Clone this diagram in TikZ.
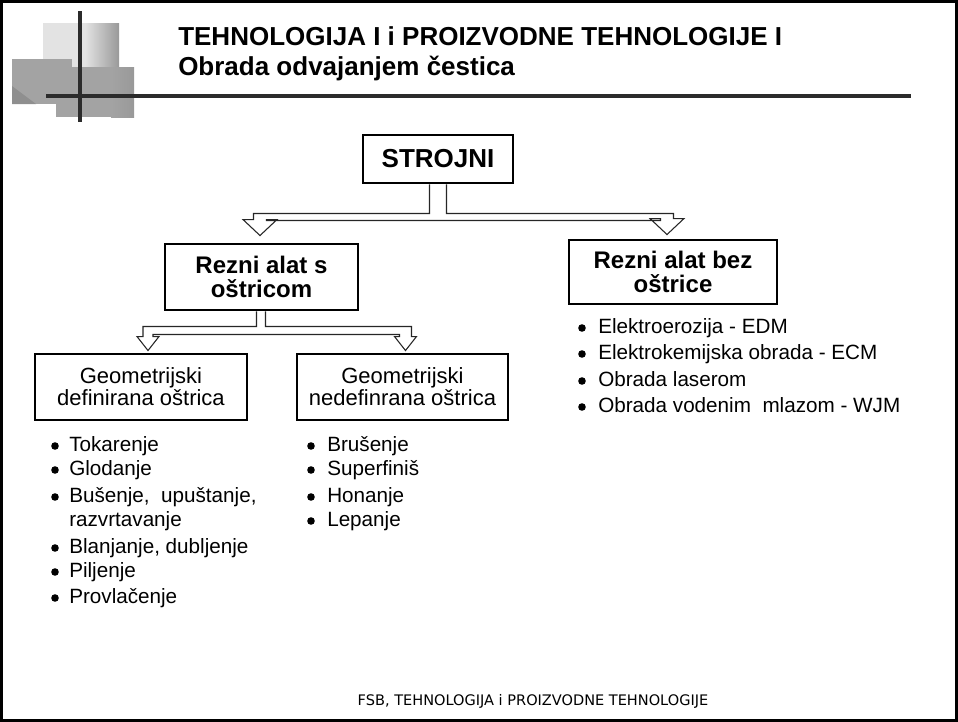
\documentclass[tikz,border=0pt]{standalone}
\usepackage{fontspec}
\setmainfont{Liberation Sans}
\newfontfamily\fsbfont{DejaVu Sans}
\usetikzlibrary{calc}

\definecolor{logolight}{gray}{0.89}
\definecolor{logodark}{gray}{0.60}
\definecolor{logomid}{gray}{0.64}
\definecolor{logoshade}{gray}{0.56}
\definecolor{logoline}{gray}{0.17}

\tikzset{
  box/.style={draw, line width=2.2pt, align=center, inner sep=0pt},
  boldbox/.style={box, font=\bfseries\fontsize{18}{18.5}\selectfont},
  thinbox/.style={box, font=\fontsize{16.5}{16.5}\selectfont, minimum height=49.5pt},
  fork/.style={draw=black!85, fill=white, line width=0.8pt, line join=miter},
  item/.style={anchor=base west, inner sep=0pt, font=\fontsize{15.5}{18}\selectfont},
}

\begin{document}
\begin{tikzpicture}[x=0.75pt,y=-0.75pt]
	\useasboundingbox (0,0) rectangle (958,722);
	% Frame
	\draw[line width=2pt] (1.5,1.5) rectangle (956.5,720.5);
	
	% Logo
	\fill[logolight] (43,23) rectangle (86,67);
	\shade[left color=logolight, right color=logodark] (85,23) rectangle (119,67);
	\fill[logomid] (56,67) rectangle (112,117);
	\shade[left color=logomid, right color=logodark] (111,67) rectangle (134,117);
	\fill[logomid] (12,59) rectangle (72,104);
	\fill[logoshade] (12,86) -- (36,104) -- (12,104) -- cycle;
	\draw[logoline, line width=2.6pt] (80,11) -- (80,122);
	\draw[logoline, line width=3pt] (46,96) -- (911,96);
	
	% Title
	\node[anchor=base west, inner sep=0pt, font=\bfseries\fontsize{19.5}{22}\selectfont] (title) at (178,45) {TEHNOLOGIJA I i PROIZVODNE TEHNOLOGIJE I};
	\node[anchor=base west, inner sep=0pt, font=\bfseries\fontsize{19.5}{22}\selectfont] (subtitle) at (178,75) {Obrada odvajanjem čestica};
	
	% Boxes
	\node[box, minimum width=112.5pt, minimum height=36pt, font=\bfseries\fontsize{19.5}{22}\selectfont] (strojni) at (438,159) {STROJNI};
	\node[boldbox, minimum width=144.75pt, minimum height=49.5pt] (rezs) at (261.5,277) {Rezni alat s\\oštricom};
	\node[boldbox, minimum width=156pt, minimum height=48pt] (rezb) at (673,272) {Rezni alat bez\\oštrice};
	\node[thinbox, minimum width=159pt] (geod) at (141,387) {Geometrijski\\definirana oštrica};
	\node[thinbox, minimum width=158.25pt] (geon) at (402.5,387) {Geometrijski\\nedefinrana oštrica};
	
	% Arrow tips
	\coordinate (t1) at ($(rezs.north)+(-1.5,-7)$);
	\coordinate (t2) at ($(rezb.north)+(-6,-4)$);
	\coordinate (t3) at ($(geod.north)+(7,-2)$);
	\coordinate (t4) at ($(geon.north)+(3,-2)$);
	
	% Forks
	\draw[fork] ($(strojni.south)+(-8.5,0)$) -- ($(strojni.south)+(-8.5,29)$)
		-| ($(t1)+(-6.5,-16)$) -- ($(t1)+(-17,-16)$) -- (t1) -- ($(t1)+(17,-16)$) -- ($(t1)+(6.5,-16)$)
		|- ($(strojni.south)+(0,36)$)
		-| ($(t2)+(-6.5,-16)$) -- ($(t2)+(-17,-16)$) -- (t2) -- ($(t2)+(17,-16)$) -- ($(t2)+(6.5,-16)$)
		|- ($(strojni.south)+(8.5,29)$) -- ($(strojni.south)+(8.5,0)$);
	\draw[fork] ($(rezs.south)+(-5,0)$) -- ($(rezs.south)+(-5,15)$)
		-| ($(t3)+(-5,-14)$) -- ($(t3)+(-11,-14)$) -- (t3) -- ($(t3)+(11,-14)$) -- ($(t3)+(5,-14)$)
		|- ($(rezs.south)+(0,23)$)
		-| ($(t4)+(-6,-14)$) -- ($(t4)+(-11,-14)$) -- (t4) -- ($(t4)+(11,-14)$) -- ($(t4)+(6,-14)$)
		|- ($(rezs.south)+(4,15)$) -- ($(rezs.south)+(4,0)$);
	
	% Lists
	\foreach \y/\t [count=\i] in {451/Tokarenje, 475/Glodanje, 502/{Bušenje,\ \ upuštanje,}, 526/razvrtavanje, 553/{Blanjanje, dubljenje}, 577/Piljenje, 603/Provlačenje}
		\node[item] (def-\i) at (69,\y) {\t};
	\foreach \y in {451,475,502,553,577,603}
		\fill (55,\y-5) circle (3.8);
	
	\foreach \y/\t [count=\i] in {451/Brušenje, 475/Superfiniš, 502/Honanje, 526/Lepanje}
	{
		\node[item] (nedef-\i) at (327,\y) {\t};
		\fill (311,\y-5) circle (3.8);
	}
	
	\foreach \y/\t [count=\i] in {333/Elektroerozija - EDM, 359/Elektrokemijska obrada - ECM, 386/Obrada laserom, 412/{Obrada vodenim\ \ mlazom - WJM}}
	{
		\node[item] (bez-\i) at (598,\y) {\t};
		\fill (582,\y-5) circle (3.8);
	}
	
	% Footer
	\node[anchor=base, inner sep=0pt, font=\fsbfont\fontsize{10.9}{12}\selectfont] (foot) at (533,705) {FSB, TEHNOLOGIJA i PROIZVODNE TEHNOLOGIJE};
	
\end{tikzpicture}
\end{document}
